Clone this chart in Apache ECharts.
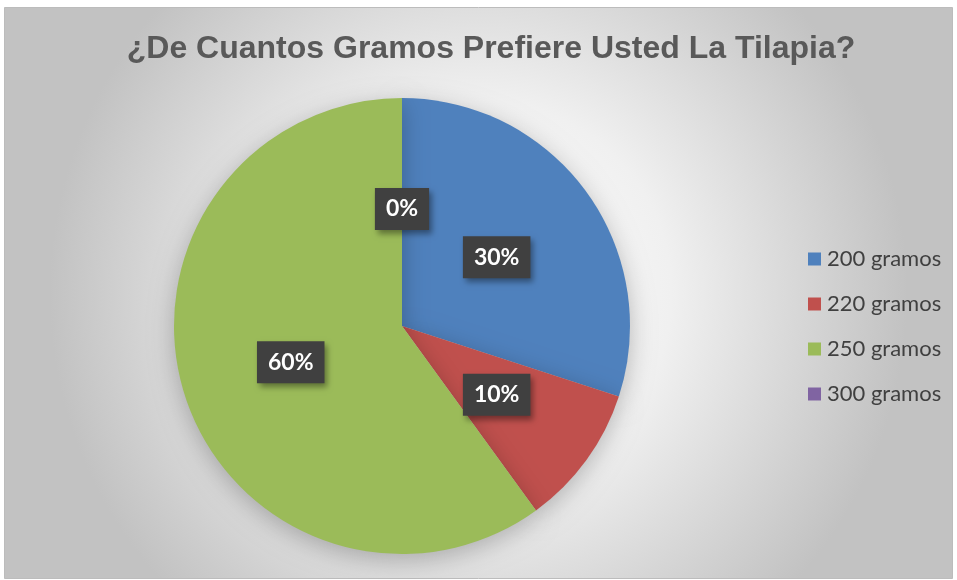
<!DOCTYPE html>
<html>
<head>
<meta charset="utf-8">
<script src="https://cdn.jsdelivr.net/npm/echarts@6/dist/echarts.min.js"></script>
<style>
html,body{margin:0;padding:0;background:#fff;}
#c{width:957px;height:580px;}
</style>
</head>
<body>
<div id="c"></div>
<script>
const titleText = '¿De Cuantos Gramos Prefiere Usted La Tilapia?';
const categories = ['200 gramos', '220 gramos', '250 gramos', '300 gramos'];
const values = [30, 10, 60, 0];
const colors = ['#4f81bd', '#c0504d', '#9bbb59', '#8064a2'];

const chart = echarts.init(document.getElementById('c'));
chart.setOption({
  backgroundColor: '#ffffff',
  animation: false,
  graphic: [{
    type: 'rect',
    z: -10,
    silent: true,
    shape: { x: 4.5, y: 7.5, width: 948, height: 571 },
    style: {
      fill: {
        type: 'radial', x: 0.5, y: 0.5, r: 0.75,
        colorStops: [
          { offset: 0, color: '#ffffff' },
          { offset: 0.45, color: '#f0f0f0' },
          { offset: 1, color: '#c2c2c2' }
        ]
      },
      stroke: '#bcbcbc',
      lineWidth: 1
    }
  }],
  title: {
    text: titleText,
    left: 486,
    textAlign: 'center',
    top: 28,
    textStyle: {
      fontFamily: 'Liberation Sans, Arial, sans-serif',
      fontWeight: 'bold',
      fontSize: 32,
      color: '#595959'
    }
  },
  color: colors,
  legend: {
    orient: 'vertical',
    left: 803,
    top: 243,
    itemWidth: 13,
    itemHeight: 13,
    itemGap: 23,
    icon: 'rect',
    textStyle: {
      fontFamily: 'Lato, Open Sans, sans-serif',
      fontSize: 22,
      color: '#404040',
      padding: [0, 0, 0, 1]
    },
    data: categories
  },
  series: [{
    type: 'pie',
    center: [402, 326],
    radius: [0, 228],
    startAngle: 90,
    clockwise: true,
    avoidLabelOverlap: false,
    itemStyle: {
      shadowBlur: 25,
      shadowColor: 'rgba(0,0,0,0.25)',
      shadowOffsetY: 6
    },
    label: {
      show: true,
      position: 'inside',
      formatter: function (p) { return Math.round(p.percent) + '%'; },
      fontFamily: 'Lato, Open Sans, sans-serif',
      fontWeight: 'bold',
      fontSize: 23,
      color: '#ffffff',
      backgroundColor: '#404040',
      padding: [10, 11, 9, 11],
      shadowBlur: 6,
      shadowColor: 'rgba(0,0,0,0.4)',
      shadowOffsetX: 3,
      shadowOffsetY: 4
    },
    labelLine: { show: false },
    data: categories.map((c, i) => ({ name: c, value: values[i] }))
  }]
});
</script>
</body>
</html>
